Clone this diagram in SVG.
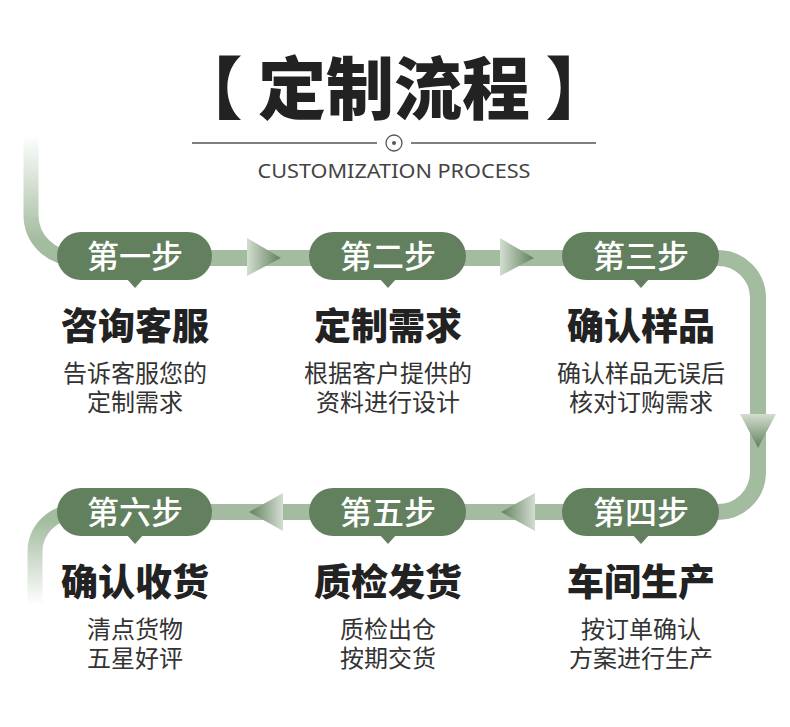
<svg xmlns="http://www.w3.org/2000/svg" width="790" height="727" viewBox="0 0 790 727">
<style>
.cn{font-family:"Noto Sans CJK SC","Noto Sans",sans-serif;}
.pill{fill:#62805e;}
.pt{font-size:32px;fill:#ffffff;font-weight:500;text-anchor:middle;}
.tt{font-size:37px;fill:#222222;font-weight:900;text-anchor:middle;}
.dt{font-size:24px;fill:#333333;font-weight:400;text-anchor:middle;}
.band{fill:none;stroke:#a3bc9f;stroke-width:16;}
</style>
<defs>
<linearGradient id="arR" x1="0" y1="0" x2="1" y2="0"><stop offset="0" stop-color="#d3ded0"/><stop offset="1" stop-color="#62805e"/></linearGradient>
<linearGradient id="arL" x1="1" y1="0" x2="0" y2="0"><stop offset="0" stop-color="#d3ded0"/><stop offset="1" stop-color="#62805e"/></linearGradient>
<linearGradient id="arD" x1="0" y1="0" x2="0" y2="1"><stop offset="0" stop-color="#d3ded0"/><stop offset="1" stop-color="#62805e"/></linearGradient>
<linearGradient id="fadeTop" gradientUnits="userSpaceOnUse" x1="0" y1="135" x2="0" y2="240"><stop offset="0" stop-color="#ffffff"/><stop offset="1" stop-color="#a3bc9f"/></linearGradient>
<linearGradient id="fadeBot" gradientUnits="userSpaceOnUse" x1="0" y1="520" x2="0" y2="605"><stop offset="0" stop-color="#a3bc9f"/><stop offset="1" stop-color="#ffffff"/></linearGradient>
</defs>
<rect width="790" height="727" fill="#ffffff"/>

<g id="header">
<text class="cn" x="394" y="114" font-size="68" font-weight="900" fill="#222222" text-anchor="middle">【 定制流程 】</text>
<line x1="192" y1="143" x2="377" y2="143" stroke="#555555" stroke-width="1.3"/>
<circle cx="394" cy="143" r="8" fill="none" stroke="#555555" stroke-width="1.3"/>
<circle cx="394" cy="143" r="2" fill="#555555"/>
<line x1="411" y1="143" x2="596" y2="143" stroke="#555555" stroke-width="1.3"/>
<text x="394" y="178" font-family="'Noto Sans','Open Sans',sans-serif" font-size="20" fill="#444444" text-anchor="middle" textLength="273" lengthAdjust="spacingAndGlyphs">CUSTOMIZATION PROCESS</text>
</g>

<g id="connectors">
<path d="M 31 135 V 215 A 43 43 0 0 0 74 258" fill="none" stroke="url(#fadeTop)" stroke-width="15"/>
<line class="band" x1="205" y1="258" x2="315" y2="258"/>
<line class="band" x1="460" y1="258" x2="570" y2="258"/>
<path class="band" d="M 710 258 H 718 A 40 40 0 0 1 758 298 V 472 A 40 40 0 0 1 718 512 H 710"/>
<line class="band" x1="460" y1="512" x2="570" y2="512"/>
<line class="band" x1="205" y1="512" x2="315" y2="512"/>
<path d="M 74 512 A 40 40 0 0 0 35 552 V 610" fill="none" stroke="url(#fadeBot)" stroke-width="15"/>
<polygon points="247,238 281,258 247,276" fill="url(#arR)"/>
<polygon points="500,238 534,258 500,276" fill="url(#arR)"/>
<polygon points="740,414 776,414 758,448" fill="url(#arD)"/>
<polygon points="535,493 501,512 535,531" fill="url(#arL)"/>
<polygon points="283,493 249,512 283,531" fill="url(#arL)"/>
</g>

<g id="step1">
<rect class="pill" x="57" y="232" width="155" height="48" rx="24"/>
<polygon class="pill" points="126,278 144,278 135,288"/>
<text class="cn pt" x="135" y="268">第一步</text>
<text class="cn tt" x="135" y="340">咨询客服</text>
<text class="cn dt" x="135" y="382">告诉客服您的</text>
<text class="cn dt" x="135" y="411">定制需求</text>
</g>

<g id="step2">
<rect class="pill" x="309" y="232" width="157" height="48" rx="24"/>
<polygon class="pill" points="379,278 397,278 388,288"/>
<text class="cn pt" x="388" y="268">第二步</text>
<text class="cn tt" x="388" y="340">定制需求</text>
<text class="cn dt" x="388" y="382">根据客户提供的</text>
<text class="cn dt" x="388" y="411">资料进行设计</text>
</g>

<g id="step3">
<rect class="pill" x="562" y="232" width="157" height="48" rx="24"/>
<polygon class="pill" points="632,278 650,278 641,288"/>
<text class="cn pt" x="641" y="268">第三步</text>
<text class="cn tt" x="641" y="340">确认样品</text>
<text class="cn dt" x="641" y="382">确认样品无误后</text>
<text class="cn dt" x="641" y="411">核对订购需求</text>
</g>

<g id="step4">
<rect class="pill" x="562" y="488" width="157" height="48" rx="24"/>
<polygon class="pill" points="632,534 650,534 641,544"/>
<text class="cn pt" x="641" y="524">第四步</text>
<text class="cn tt" x="641" y="596">车间生产</text>
<text class="cn dt" x="641" y="638">按订单确认</text>
<text class="cn dt" x="641" y="667">方案进行生产</text>
</g>

<g id="step5">
<rect class="pill" x="309" y="488" width="157" height="48" rx="24"/>
<polygon class="pill" points="379,534 397,534 388,544"/>
<text class="cn pt" x="388" y="524">第五步</text>
<text class="cn tt" x="388" y="596">质检发货</text>
<text class="cn dt" x="388" y="638">质检出仓</text>
<text class="cn dt" x="388" y="667">按期交货</text>
</g>

<g id="step6">
<rect class="pill" x="57" y="488" width="155" height="48" rx="24"/>
<polygon class="pill" points="126,534 144,534 135,544"/>
<text class="cn pt" x="135" y="524">第六步</text>
<text class="cn tt" x="135" y="596">确认收货</text>
<text class="cn dt" x="135" y="638">清点货物</text>
<text class="cn dt" x="135" y="667">五星好评</text>
</g>
</svg>
